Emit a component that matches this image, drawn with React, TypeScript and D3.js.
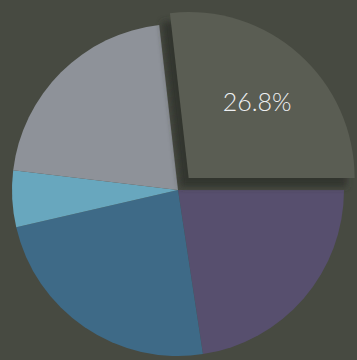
import React from "react";
import * as d3 from "d3";

const categories = ["A", "B", "C", "D", "E"];
const values = [26.8, 22.6, 23.8, 5.5, 21.3];
const colors = ["#5a5d53", "#574f6e", "#3e6a87", "#68a7be", "#8e9299"];
const labels = ["26.8%", "", "", "", ""];
const explodedIndex = 0;

const W = 357;
const H = 360;
const CX = 178;
const CY = 190;
const R = 166;
const EXPLODE = 16;

export default function App() {
  const total = d3.sum(values);
  const start = Math.PI / 2 - (values[0] / total) * 2 * Math.PI;
  const pie = d3
    .pie<number>()
    .sort(null)
    .value((d) => d)
    .startAngle(start)
    .endAngle(start + 2 * Math.PI);
  const arcs = pie(values);
  const arc = d3.arc<d3.PieArcDatum<number>>().innerRadius(0).outerRadius(R);
  const labelArc = d3
    .arc<d3.PieArcDatum<number>>()
    .innerRadius(R * 0.62)
    .outerRadius(R * 0.62);

  const offset = (a: d3.PieArcDatum<number>, i: number) => {
    if (i !== explodedIndex) return [0, 0];
    const mid = (a.startAngle + a.endAngle) / 2;
    return [Math.sin(mid) * EXPLODE, -Math.cos(mid) * EXPLODE];
  };

  return (
    <svg
      width={W}
      height={H}
      style={{ position: "fixed", left: 0, top: 0, display: "block" }}
    >
      <defs>
        <filter id="blur" x="-20%" y="-20%" width="140%" height="140%">
          <feGaussianBlur stdDeviation="3" />
        </filter>
      </defs>
      <rect width={W} height={H} fill="#474a41" />
      <g transform={`translate(${CX},${CY})`}>
        {arcs.map((a, i) =>
          i === explodedIndex ? null : (
            <path key={categories[i]} d={arc(a) || ""} fill={colors[i]} />
          )
        )}
        {arcs.map((a, i) => {
          if (i !== explodedIndex) return null;
          const [dx, dy] = offset(a, i);
          return (
            <g key={categories[i]}>
              <path
                d={arc(a) || ""}
                fill="#33352e"
                filter="url(#blur)"
                transform={`translate(${dx * 0.25},${dy * 0.25})`}
              />
              <path
                d={arc(a) || ""}
                fill={colors[i]}
                transform={`translate(${dx},${dy})`}
              />
            </g>
          );
        })}
        {arcs.map((a, i) => {
          if (!labels[i]) return null;
          const [dx, dy] = offset(a, i);
          const [lx, ly] = labelArc.centroid(a);
          return (
            <text
              key={"l" + categories[i]}
              x={lx + dx}
              y={ly + dy}
              textAnchor="middle"
              dominantBaseline="central"
              fontFamily="Lato, 'Open Sans', sans-serif"
              fontWeight={300}
              fontSize={25}
              fill="#eef0f2"
            >
              {labels[i]}
            </text>
          );
        })}
      </g>
    </svg>
  );
}
